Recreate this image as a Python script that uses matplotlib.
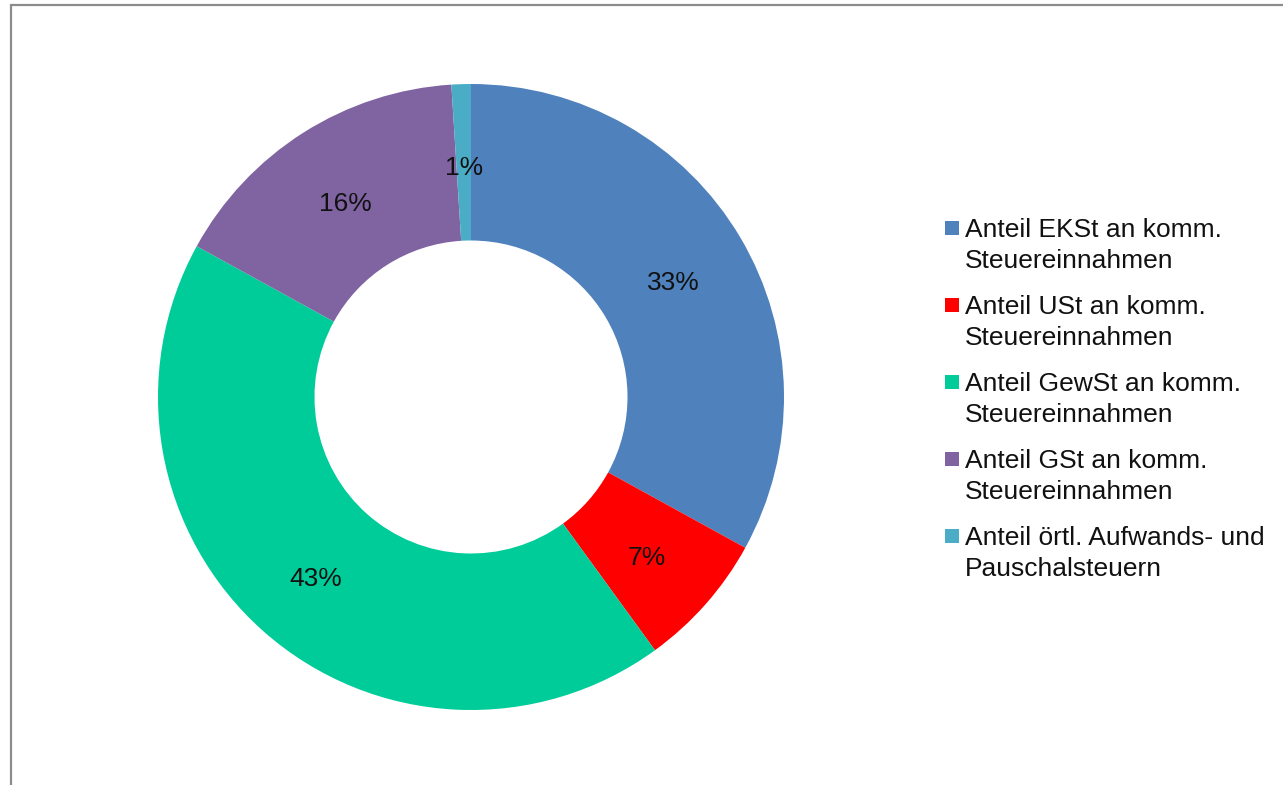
import matplotlib.pyplot as plt
from matplotlib.patches import Rectangle
from matplotlib.transforms import ScaledTranslation

plt.rcParams['font.family'] = ['Liberation Sans', 'DejaVu Sans']

# Anteile an den kommunalen Steuereinnahmen (in %)
labels = [
    "Anteil EKSt an komm.\nSteuereinnahmen",
    "Anteil USt an komm.\nSteuereinnahmen",
    "Anteil GewSt an komm.\nSteuereinnahmen",
    "Anteil GSt an komm.\nSteuereinnahmen",
    "Anteil örtl. Aufwands- und\nPauschalsteuern",
]
shares = [33, 7, 43, 16, 1]
colors = ["#4F81BD", "#FF0000", "#00CC99", "#8064A2", "#4BACC6"]

W, H = 1283, 785
fig = plt.figure(figsize=(W / 100, H / 100), dpi=100)

# square axes for the ring, placed in pixel terms
cx, cy, r = 471, 397, 313
ax = fig.add_axes([(cx - r) / W, (H - cy - r) / H, 2 * r / W, 2 * r / H])

wedges, texts, autotexts = ax.pie(
    shares, colors=colors, startangle=90, counterclock=False,
    radius=1.0, wedgeprops=dict(width=0.5, linewidth=0),
    autopct="%.0f%%", pctdistance=0.75,
    textprops=dict(fontsize=19, color="#111111"))
nudge = ScaledTranslation(0, -3 / 100, fig.dpi_scale_trans)
for t in autotexts:
    t.set_va("center_baseline")
    t.set_transform(t.get_transform() + nudge)
ax.set_xlim(-1, 1)
ax.set_ylim(-1, 1)
ax.set_aspect("equal")
ax.axis("off")

# legend: square marker next to the first line of each entry
lx, ly0, step = 945 / W, 1 - 228 / H, 77 / H
sq = 14
for i, (lab, col) in enumerate(zip(labels, colors)):
    y = ly0 - i * step
    fig.add_artist(Rectangle((lx, y - sq / 2 / H), sq / W, sq / H,
                             transform=fig.transFigure, facecolor=col,
                             edgecolor="none"))
    fig.text(965 / W, y + 10 / H, lab, fontsize=19, color="#111111",
             va="top", ha="left", linespacing=1.38)

# grey frame around the chart area
fig.add_artist(Rectangle((11 / W, -0.1), 1.2, 1 - 5 / H + 0.1,
                         transform=fig.transFigure, facecolor="none",
                         edgecolor="#8c8c8c", linewidth=1.6))

fig.savefig("out.png", dpi=100)
